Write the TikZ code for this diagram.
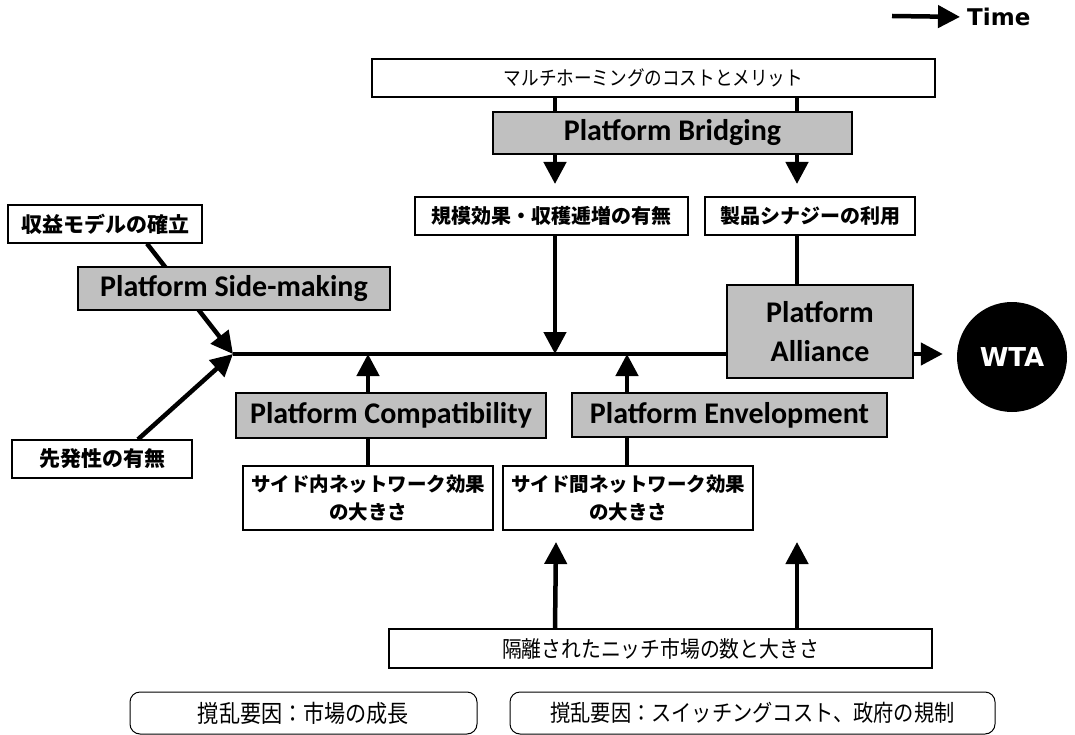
\documentclass[tikz,border=0pt]{standalone}
\usepackage{fontspec}
\usetikzlibrary{arrows.meta,backgrounds}
\newfontfamily\jpf{Noto Sans CJK JP}
\newfontfamily\jpc{Noto Sans CJK JP}[FakeStretch=0.88]
\newfontfamily\carl{Carlito}
\newfontfamily\dvs{DejaVu Sans}
\definecolor{boxgray}{RGB}{192,192,192}
\tikzset{
  wbox/.style={draw=black, line width=1.3pt, fill=white, inner sep=0pt, align=center, text=black},
  gbox/.style={draw=black, line width=1.3pt, fill=boxgray, inner sep=0pt, align=center,
    font=\carl\bfseries\fontsize{30}{39}\selectfont},
  rbox/.style={draw=black, line width=1.0pt, fill=white, rounded corners=10pt, inner sep=0pt,
    font=\jpc\fontsize{23}{26}\selectfont},
  jpb/.style={font=\jpf\bfseries\fontsize{20}{26}\selectfont},
  conn/.style={line width=4.5pt, draw=black},
  arr/.style={line width=4.5pt, draw=black, -{Triangle[length=22pt,width=22pt]}},
}
\begin{document}
\begin{tikzpicture}[x=1pt,y=-1pt]
\useasboundingbox (0,0) rectangle (1075,735);
% helper x positions
\coordinate (cL) at (555,0);
\coordinate (cR) at (797,0);
\coordinate (c368) at (368,0);
\coordinate (e627) at (627,0);
\coordinate (r1) at (147,0);
\coordinate (f1) at (138,0);
\coordinate (start) at (233,354);
\coordinate (bL) at (555,184);
\coordinate (bR) at (797,184);
\coordinate (nL) at (556,542);
\coordinate (nR) at (797,542);
\coordinate (t0) at (892,16);

% time label
\node[anchor=west, inner sep=0pt, font=\dvs\bfseries\fontsize{23}{26}\selectfont] (time) at (967,17) {Time};

% boxes
\node[wbox, minimum width=563pt, minimum height=38pt, font=\jpc\fontsize{20}{24}\selectfont] (top) at (653.5,78) {マルチホーミングのコストとメリット};
\node[gbox, minimum width=359pt, minimum height=42pt] (bridging) at (672.5,133) {Platform Bridging};
\node[wbox, jpb, minimum width=273pt, minimum height=38pt] (scale) at (551.5,216) {規模効果・収穫逓増の有無};
\node[wbox, jpb, minimum width=210pt, minimum height=38pt] (synergy) at (810,216) {製品シナジーの利用};
\node[wbox, jpb, minimum width=194pt, minimum height=38pt, font=\jpf\bfseries\fontsize{21}{26}\selectfont] (revenue) at (105,224) {収益モデルの確立};
\node[gbox, minimum width=312pt, minimum height=43pt] (sidemaking) at (234,288.5) {Platform Side-making};
\node[wbox, jpb, minimum width=180pt, minimum height=38pt, font=\jpf\bfseries\fontsize{21}{26}\selectfont] (first) at (102,459) {先発性の有無};
\node[gbox, minimum width=310pt, minimum height=45pt] (compat) at (391,415.5) {Platform Compatibility};
\node[gbox, minimum width=315pt, minimum height=44pt] (envel) at (729.5,415) {Platform Envelopment};
\node[gbox, minimum width=186pt, minimum height=93pt] (alliance) at (820,331.5) {Platform\\Alliance};
\node[wbox, minimum width=250pt, minimum height=64pt, font=\jpf\bfseries\fontsize{19.5}{28}\selectfont] (within) at (368,498) {サイド内ネットワーク効果\\の大きさ};
\node[wbox, minimum width=250pt, minimum height=64pt, font=\jpf\bfseries\fontsize{19.5}{28}\selectfont] (between) at (628,498) {サイド間ネットワーク効果\\の大きさ};
\node[wbox, minimum width=543pt, minimum height=39pt, font=\jpc\fontsize{22.5}{26}\selectfont] (niche) at (660.5,648.5) {隔離されたニッチ市場の数と大きさ};
\node[rbox, minimum width=347pt, minimum height=42pt, font=\jpc\fontsize{24}{26}\selectfont] (dist1) at (303.5,713) {撹乱要因：市場の成長};
\node[rbox, minimum width=485pt, minimum height=42pt] (dist2) at (752.5,713) {撹乱要因：スイッチングコスト、政府の規制};
\node[circle, fill=black, minimum size=110pt, inner sep=0pt, text=white,
  font=\dvs\bfseries\fontsize{26}{30}\selectfont] (wta) at (1012,357) {WTA};

\begin{pgfonlayer}{background}
% time arrow
\draw[arr] (t0) -- (time.west) [shorten >=7pt];
% top
\draw[conn] (top.south -| cL) -- (bridging.north -| cL);
\draw[conn] (top.south -| cR) -- (bridging.north -| cR);
\draw[arr] (bridging.south -| cL) -- (bL);
\draw[arr] (bridging.south -| cR) -- (bR);
\draw[arr] (scale.south -| cL) -- (start -| cL);
\draw[conn] (synergy.south -| cR) -- (alliance.north -| cR);
% left diagonals
\draw[arr] (revenue.south -| r1) -- (start);
\draw[arr] (first.north -| f1) -- (start);
% main line
\draw[conn] (start) -- (start -| alliance.west);
\draw[arr, shorten >=14pt] (start -| alliance.east) -- (start -| wta.west);
% lower
\draw[arr] (compat.north -| c368) -- (start -| c368);
\draw[conn] (within.north -| c368) -- (compat.south -| c368);
\draw[arr] (envel.north -| e627) -- (start -| e627);
\draw[conn] (between.north -| e627) -- (envel.south -| e627);
\draw[arr] (niche.north -| cL) -- (nL);
\draw[arr] (niche.north -| cR) -- (nR);
\end{pgfonlayer}
\end{tikzpicture}
\end{document}
